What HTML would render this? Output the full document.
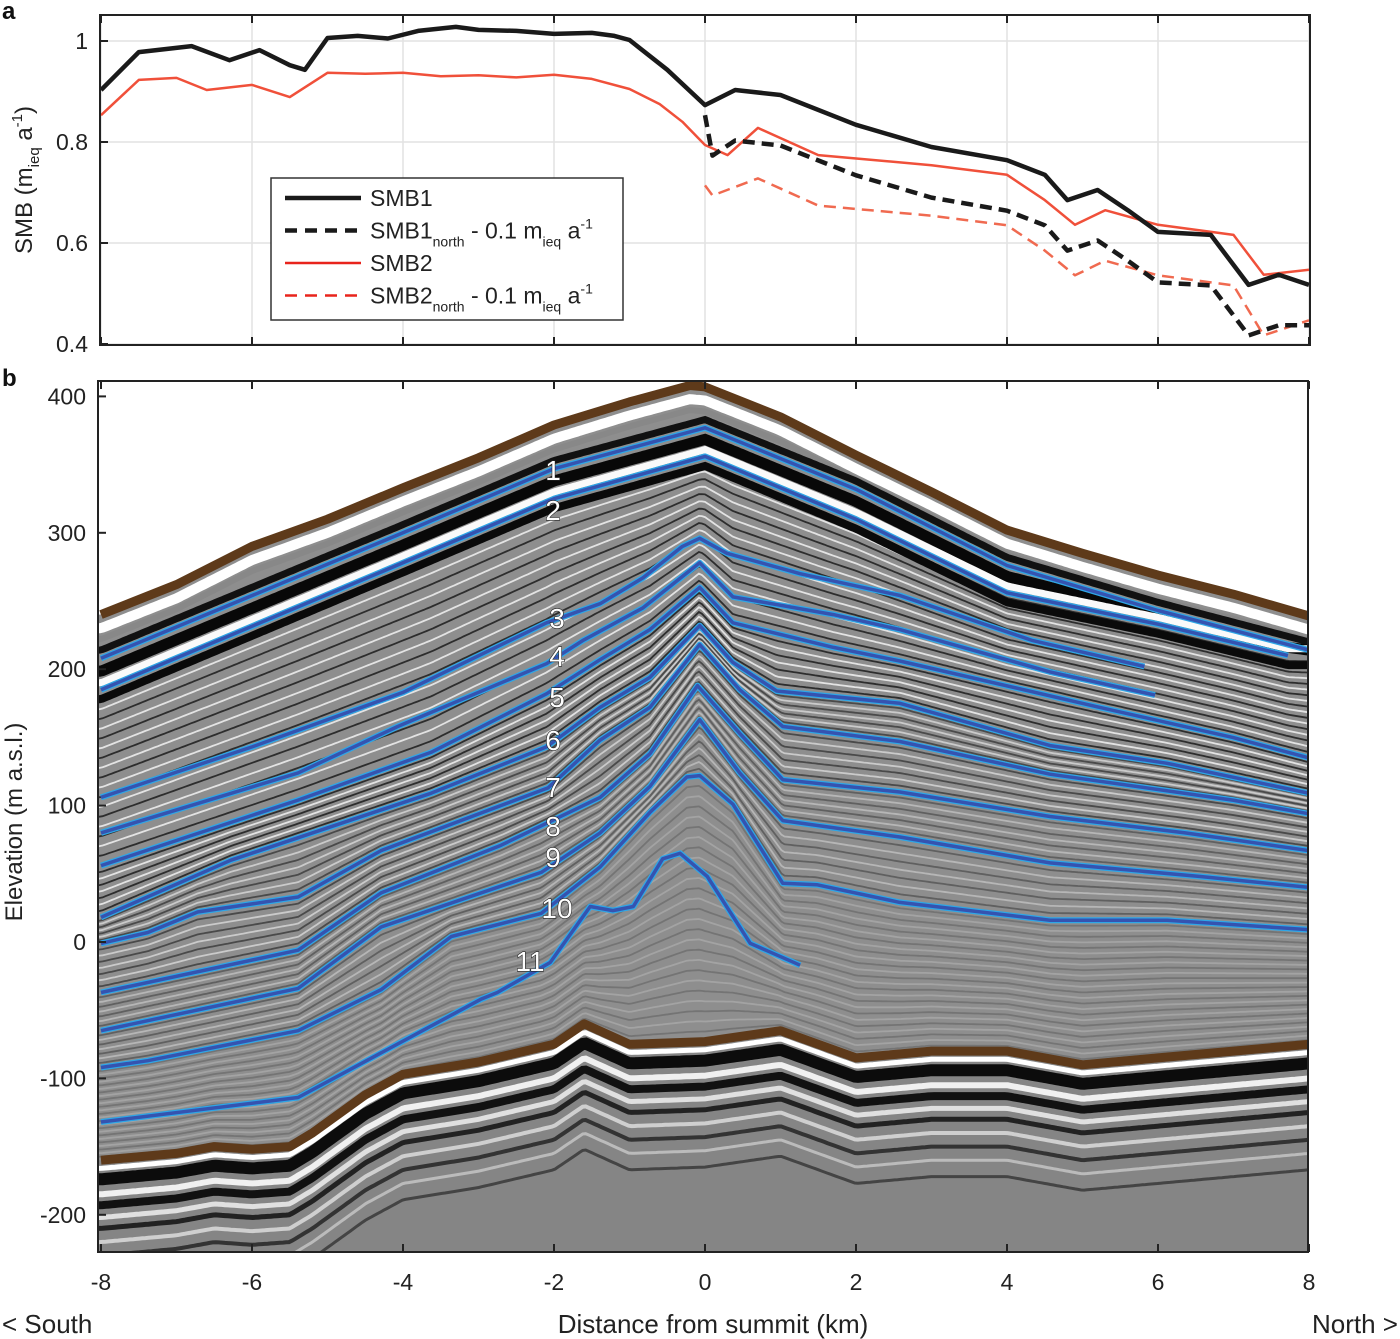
<!DOCTYPE html>
<html><head><meta charset="utf-8"><style>
html,body{margin:0;padding:0;background:#fff;}
svg{display:block;font-family:"Liberation Sans",Arial,sans-serif;}
</style></head><body>
<svg id="fig" width="1400" height="1339" viewBox="0 0 1400 1339" xmlns="http://www.w3.org/2000/svg">
<defs>
<clipPath id="clipA"><rect x="100" y="15" width="1210" height="330"/></clipPath>
<clipPath id="clipB"><rect x="98" y="381" width="1210" height="871"/></clipPath>
</defs>
<g id="panelA"></g>
<g id="panelB"></g>
</svg>
<script>
// ---------- Panel a data ----------
const smb1X = [-8,-7.5,-6.8,-6.3,-5.9,-5.5,-5.3,-5,-4.6,-4.2,-3.8,-3.3,-3,-2.5,-2,-1.5,-1.2,-1,-0.5,0,0.4,1,2,3,4,4.5,4.8,5.2,5.6,6,6.7,7.2,7.6,8];
const smb1V = [0.903,0.978,0.99,0.962,0.982,0.952,0.943,1.006,1.01,1.005,1.02,1.028,1.022,1.02,1.014,1.016,1.01,1.002,0.943,0.873,0.903,0.893,0.834,0.79,0.764,0.735,0.685,0.705,0.665,0.622,0.616,0.517,0.537,0.517];
const smb2X = [-8,-7.5,-7,-6.6,-6,-5.5,-5,-4.5,-4,-3.5,-3,-2.5,-2,-1.5,-1,-0.6,-0.3,0,0.3,0.7,1.5,3,4,4.5,4.9,5.3,6,7,7.4,8];
const smb2V = [0.853,0.923,0.927,0.903,0.913,0.889,0.937,0.935,0.937,0.93,0.932,0.928,0.933,0.925,0.905,0.875,0.84,0.794,0.774,0.828,0.774,0.754,0.735,0.685,0.636,0.665,0.636,0.616,0.537,0.547];
const smb1nX = [0,0.1,0.4,1,2,3,4,4.5,4.8,5.2,5.6,6,6.7,7.2,7.6,8];
const smb1nV = [0.853,0.773,0.803,0.793,0.734,0.69,0.664,0.635,0.585,0.605,0.565,0.522,0.516,0.417,0.437,0.437];
const smb2nX = [0,0.1,0.7,1.5,3,4,4.5,4.9,5.3,6,7,7.4,8];
const smb2nV = [0.714,0.694,0.728,0.674,0.654,0.635,0.585,0.536,0.565,0.536,0.516,0.417,0.447];
const aYTicks = [0.4,0.6,0.8,1];
const xTicks = [-8,-6,-4,-2,0,2,4,6,8];

// ---------- Panel b data ----------
const surfX = [-8,-7,-6,-5,-4,-3,-2,-1,-0.2,0,1,2,3,4,5,6,7,8];
const surfE = [240,262,290,310,333,355,379,396,408,407,385,357,330,302,285,269,255,239];
const bedX = [-8,-7,-6.5,-6,-5.5,-5.2,-4.5,-4,-3,-2,-1.6,-1,0,1,2,3,4,5,6,7,8];
const bedE = [-160,-155,-150,-152,-150,-140,-112,-97,-88,-75,-60,-75,-73,-65,-85,-80,-80,-90,-85,-80,-75];
const L1X = [-8,-4,-2,0,2,4,6,8];
const L1E = [208,300,347,377,332,276,243,214];
const L2X = [-8,-4,-2,0,2,4,6,7.72];
const L2E = [185,278,325,356,310,256,233,210];
const L3X = [-8,-6,-4,-2.1,-1.39,-0.82,-0.3,-0.07,0.29,1.26,2.58,4.34,5.82];
const L3E = [106,143,183,234,248,267,290,296,285,270,254,221,202];
const L4X = [-8,-5.39,-4.07,-2.1,-1.62,-0.82,-0.07,0.37,1.7,2.58,4.57,5.96];
const L4E = [80,124,158,204,221,245,278,253,240,229,198,181];
const L5X = [-8,-5.39,-3.63,-2.1,-1.39,-0.73,-0.07,0.37,1.7,2.58,5.23,6.99,8];
const L5E = [56,104,139,182,207,229,260,234,216,206,172,150,135];
const L6X = [-8,-6.28,-3.63,-2.1,-1.39,-0.73,-0.07,0.37,0.95,2.58,4.57,6.12,8];
const L6E = [18,60,109,143,172,194,232,205,184,175,144,131,109];
const L7X = [-8,-7.38,-6.72,-5.39,-4.29,-2.08,-1.39,-0.73,-0.07,0.46,1.03,2.58,4.57,6.99,8];
const L7E = [-1,7,22,33,67,113,148,172,218,185,158,147,123,104,94];
const L8X = [-8,-5.39,-4.29,-2.7,-1.39,-0.73,-0.1,0.46,1.03,2.58,4.57,6.36,8];
const L8E = [-37,-6,36,71,106,138,188,153,119,110,92,80,67];
const L9X = [-8,-5.39,-4.29,-2.17,-1.39,-0.73,-0.07,0.46,1.03,2.58,4.57,6.56,8];
const L9E = [-65,-34,11,51,80,114,163,124,89,77,58,48,40];
const L10X = [-8,-7.38,-5.39,-4.29,-3.36,-2.17,-1.39,-0.73,-0.24,-0.07,0.37,1.03,1.48,2.58,4.57,6.12,8];
const L10E = [-92,-87,-65,-35,4,21,55,95,121,122,101,43,42,29,16,16,9];
const L11X = [-8,-5.39,-2.97,-2.75,-2.05,-1.52,-1.22,-0.95,-0.56,-0.33,0.03,0.6,1.26];
const L11E = [-132,-114,-42,-37,-15,26,23,26,61,65,48,-1,-17];
const bYTicks = [-200,-100,0,100,200,300,400];
const layerLabels = ["1","2","3","4","5","6","7","8","9","10","11"];

const NS="http://www.w3.org/2000/svg";
function mk(tag,attrs,parent){const e=document.createElementNS(NS,tag);for(const k in attrs)e.setAttribute(k,attrs[k]);if(parent)parent.appendChild(e);return e;}
function interp(xs,ys,x){if(x<=xs[0])return ys[0];for(let i=1;i<xs.length;i++){if(x<=xs[i]){const t=(x-xs[i-1])/(xs[i]-xs[i-1]);return ys[i-1]+t*(ys[i]-ys[i-1]);}}return ys[ys.length-1];}

const xA = k => 705 + k*75.5;
const yA = v => 41 + (1-v)*505;
const yB = m => 942 - m*1.364;

// ---------- Panel a ----------
const A=document.getElementById('panelA');
mk('rect',{x:100,y:15,width:1210,height:330,fill:'#fff'},A);
const gridA=mk('g',{},A);


xTicks.forEach(t=>{mk('line',{x1:xA(t),x2:xA(t),y1:15,y2:345,stroke:'#e2e2e2','stroke-width':1.5},gridA);});
aYTicks.forEach(t=>{mk('line',{x1:100,x2:1310,y1:yA(t),y2:yA(t),stroke:'#e2e2e2','stroke-width':1.5},gridA);});
const serA=mk('g',{'clip-path':'url(#clipA)'},A);
function pathA(xs,vs,stroke,w,dash,name){
  const d=xs.map((x,i)=>(i?'L':'M')+xA(x).toFixed(1)+','+yA(vs[i]).toFixed(1)).join('');
  const p=mk('path',{d:d,fill:'none',stroke:stroke,'stroke-width':w,'stroke-linejoin':'round'},serA);
  if(dash)p.setAttribute('stroke-dasharray',dash);
  
  
}
pathA(smb2X,smb2V,'#f0503a',2.5,null,'smb2-line');
pathA(smb2nX,smb2nV,'#f06a50',2.5,'12,7','smb2-north-line');
pathA(smb1X,smb1V,'#1a1a1a',4.5,null,'smb1-line');
pathA(smb1nX,smb1nV,'#1a1a1a',4.5,'12,7','smb1-north-line');
mk('rect',{x:100,y:15,width:1210,height:330,fill:'none',stroke:'#222','stroke-width':2},A);
xTicks.forEach(t=>{mk('line',{x1:xA(t),x2:xA(t),y1:345,y2:337,stroke:'#222','stroke-width':2},A);mk('line',{x1:xA(t),x2:xA(t),y1:15,y2:23,stroke:'#222','stroke-width':2},A);});
aYTicks.forEach(t=>{
  mk('line',{x1:100,x2:108,y1:yA(t),y2:yA(t),stroke:'#222','stroke-width':2},A);
  const tx=mk('text',{x:88,y:yA(t)+8,'text-anchor':'end','font-size':23,fill:'#222'},A);
  tx.textContent=String(t);
  
  
});
const lg=mk('g',{},A);


mk('rect',{x:271,y:178,width:352,height:142,fill:'#fff',stroke:'#333','stroke-width':1.5},lg);
const legs=[['#1a1a1a',4.5,null,'SMB1',''],['#1a1a1a',4.5,'12,8','SMB1','north'],['#e8241c',2.5,null,'SMB2',''],['#e8241c',2.5,'12,8','SMB2','north']];
legs.forEach((l,i)=>{
  const y=198+i*32.5;
  const ln=mk('line',{x1:285,x2:361,y1:y,y2:y,stroke:l[0],'stroke-width':l[1]},lg);
  if(l[2])ln.setAttribute('stroke-dasharray',l[2]);
  const t=mk('text',{x:370,y:y+8,'font-size':23,fill:'#222'},lg);
  
  
  if(l[4]){t.innerHTML=l[3]+'<tspan font-size="14" dy="8">north</tspan><tspan dy="-8"> - 0.1 m</tspan><tspan font-size="14" dy="8">ieq</tspan><tspan dy="-8"> a</tspan><tspan font-size="14" dy="-10">-1</tspan>';}
  else t.textContent=l[3];
});
const ya=mk('text',{transform:'translate(32,180) rotate(-90)','text-anchor':'middle','font-size':24,fill:'#222'},A);
ya.innerHTML='SMB (m<tspan font-size="15" dy="7">ieq</tspan><tspan dy="-7"> a</tspan><tspan font-size="15" dy="-10">-1</tspan><tspan dy="10">)</tspan>';


const la=mk('text',{x:2,y:19,'font-size':24,'font-weight':'bold',fill:'#111'},A);la.textContent='a';



// ---------- Panel b ----------
const B=document.getElementById('panelB');
const xs=[];for(let i=0;i<=400;i++)xs.push(-8.1+i*0.0405);
const cl=mk('g',{'clip-path':'url(#clipB)'},B);


mk('rect',{x:98,y:381,width:1210,height:871,fill:'#8e8e8e'},cl);
function lineFromFn(fn){return xs.map((x,i)=>(i?'L':'M')+xA(x).toFixed(1)+','+yB(fn(x)).toFixed(1)).join('');}
const stack=[[surfX,surfE],[L1X,L1E],[L2X,L2E],[L5X,L5E],[L6X,L6E],[L7X,L7E],[L8X,L8E],[L9X,L9E],[L10X,L10E],[bedX,bedE]];
const tex=mk('g',{},cl);
for(let s=2;s<stack.length-1;s++){
  const n=s===2?18:(s===stack.length-2?26:8);
  for(let k=1;k<n;k++){
    const t=k/n;
    const fn=x=>interp(stack[s][0],stack[s][1],x)*(1-t)+interp(stack[s+1][0],stack[s+1][1],x)*t;
    const fade=s>=8?0.22:(s>=6?0.4:(s>=4?0.6:0.85));
    mk('path',{d:lineFromFn(fn),fill:'none',stroke:k%2?'#1c1c1c':'#f2f2f2','stroke-width':1.8,opacity:fade},tex);
  }
}
const sf=x=>interp(surfX,surfE,x);
const l1=x=>interp(L1X,L1E,x), l2=x=>interp(L2X,L2E,x);
mk('path',{d:lineFromFn(x=>sf(x)-10),fill:'none',stroke:'#fff','stroke-width':10},cl);
mk('path',{d:lineFromFn(x=>sf(x)-18),fill:'none',stroke:'#888','stroke-width':6},cl);
mk('path',{d:lineFromFn(x=>l1(x)+6),fill:'none',stroke:'#111','stroke-width':7},cl);
mk('path',{d:lineFromFn(x=>(l1(x)+l2(x))/2+2),fill:'none',stroke:'#080808','stroke-width':11},cl);
mk('path',{d:lineFromFn(x=>l2(x)+5),fill:'none',stroke:'#fafafa','stroke-width':7},cl);
mk('path',{d:lineFromFn(x=>l2(x)-7),fill:'none',stroke:'#0a0a0a','stroke-width':8},cl);
const above=xs.map((x,i)=>(i?'L':'M')+xA(x).toFixed(1)+','+yB(sf(x)).toFixed(1)).join('')+'L1320,370L90,370Z';
mk('path',{d:above,fill:'#fff'},cl);
const bf=x=>interp(bedX,bedE,x);
const below=xs.map((x,i)=>(i?'L':'M')+xA(x).toFixed(1)+','+yB(bf(x)).toFixed(1)).join('')+'L1320,1260L90,1260Z';
mk('path',{d:below,fill:'#858585'},cl);
[[6,'#fff',5],[14,'#0c0c0c',12],[25,'#f0f0f0',6],[33,'#111',8],[42,'#e0e0e0',5],[50,'#222',5],[60,'#cfcfcf',4],[70,'#333',4],[80,'#bbb',3],[92,'#444',3]].forEach(b=>{
  mk('path',{d:lineFromFn(x=>bf(x)-b[0]),fill:'none',stroke:b[1],'stroke-width':b[2]},cl);
});
const layers=[[L1X,L1E],[L2X,L2E],[L3X,L3E],[L4X,L4E],[L5X,L5E],[L6X,L6E],[L7X,L7E],[L8X,L8E],[L9X,L9E],[L10X,L10E],[L11X,L11E]];
layers.forEach((L,i)=>{
  const d=L[0].map((x,j)=>(j?'L':'M')+xA(x).toFixed(1)+','+yB(L[1][j]).toFixed(1)).join('');
  const g=mk('g',{},cl);
  
  
  mk('path',{d:d,fill:'none',stroke:'#2ea6e6','stroke-width':6,'stroke-linejoin':'round'},g);
  mk('path',{d:d,fill:'none',stroke:'#3553b0','stroke-width':3.5,'stroke-linejoin':'round'},g);
});
const sp=mk('path',{d:surfX.map((x,j)=>(j?'L':'M')+xA(x).toFixed(1)+','+yB(surfE[j]).toFixed(1)).join(''),fill:'none',stroke:'#5e3a1a','stroke-width':9,'stroke-linejoin':'round'},cl);


const bp=mk('path',{d:bedX.map((x,j)=>(j?'L':'M')+xA(x).toFixed(1)+','+yB(bedE[j]).toFixed(1)).join(''),fill:'none',stroke:'#5e3a1a','stroke-width':9,'stroke-linejoin':'round'},cl);


const labPos=[[553,480],[553,520],[557,628],[557,666],[557,707],[553,750],[553,797],[553,836],[553,867],[557,918],[530,971]];
layerLabels.forEach((s,i)=>{
  const t=mk('text',{x:labPos[i][0],y:labPos[i][1],'text-anchor':'middle','font-size':28,fill:'#fff',stroke:'#222','stroke-width':1.2,'paint-order':'stroke'},B);
  t.textContent=s;
  
  
});
mk('rect',{x:98,y:381,width:1210,height:871,fill:'none',stroke:'#222','stroke-width':2},B);
xTicks.forEach(t=>{
  mk('line',{x1:xA(t),x2:xA(t),y1:1252,y2:1244,stroke:'#222','stroke-width':2},B);
  mk('line',{x1:xA(t),x2:xA(t),y1:381,y2:389,stroke:'#222','stroke-width':2},B);
  const tx=mk('text',{x:xA(t),y:1290,'text-anchor':'middle','font-size':23,fill:'#222'},B);
  tx.textContent=String(t);
  
  
});
bYTicks.forEach(t=>{
  mk('line',{x1:98,x2:106,y1:yB(t),y2:yB(t),stroke:'#222','stroke-width':2},B);
  const tx=mk('text',{x:86,y:yB(t)+8,'text-anchor':'end','font-size':23,fill:'#222'},B);
  tx.textContent=String(t);
  
  
});
const yb=mk('text',{transform:'translate(22,822) rotate(-90)','text-anchor':'middle','font-size':24,fill:'#222'},B);
yb.textContent='Elevation (m a.s.l.)';


const xt=mk('text',{x:713,y:1333,'text-anchor':'middle','font-size':26,fill:'#222'},B);
xt.textContent='Distance from summit (km)';


const so=mk('text',{x:2,y:1333,'font-size':26,fill:'#222'},B);
so.textContent='<  South';


const no=mk('text',{x:1398,y:1333,'text-anchor':'end','font-size':26,fill:'#222'},B);
no.textContent='North  >';


const lb=mk('text',{x:2,y:386,'font-size':24,'font-weight':'bold',fill:'#111'},B);lb.textContent='b';


</script>
</body></html>
